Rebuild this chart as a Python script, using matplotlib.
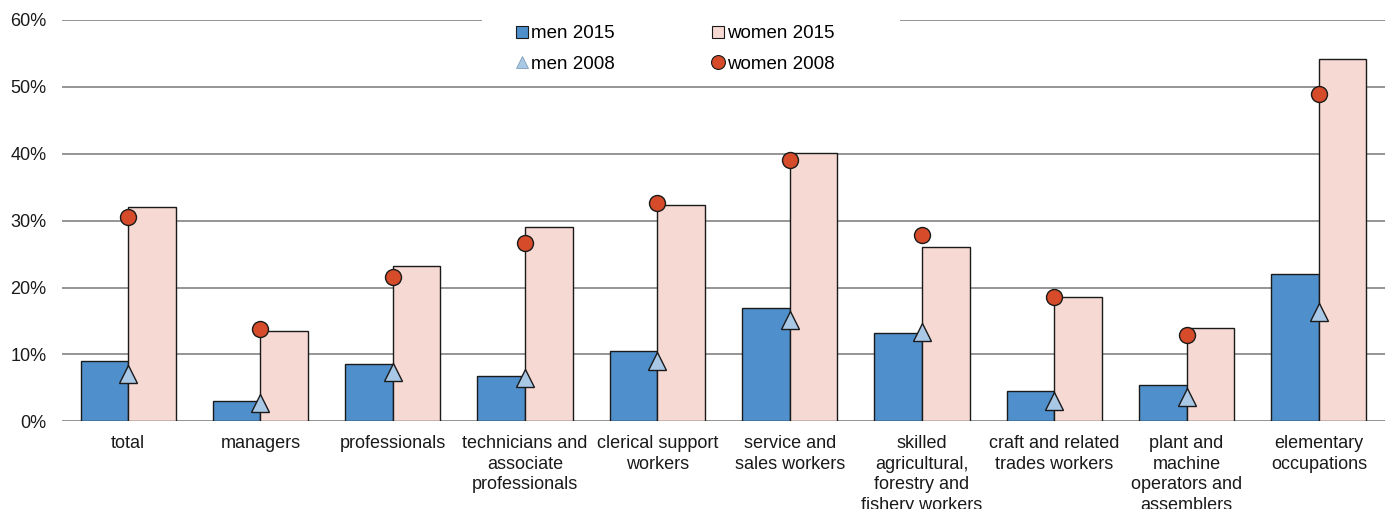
import matplotlib
matplotlib.use("Agg")
import matplotlib.pyplot as plt
from matplotlib.lines import Line2D
from matplotlib.patches import Rectangle
import numpy as np

categories = [
    "total",
    "managers",
    "professionals",
    "technicians and\nassociate\nprofessionals",
    "clerical support\nworkers",
    "service and\nsales workers",
    "skilled\nagricultural,\nforestry and\nfishery workers",
    "craft and related\ntrades workers",
    "plant and\nmachine\noperators and\nassemblers",
    "elementary\noccupations",
]
men_2015 = [9.0, 3.0, 8.5, 6.7, 10.5, 17.0, 13.2, 4.5, 5.5, 22.0]
women_2015 = [32.1, 13.5, 23.2, 29.0, 32.4, 40.1, 26.1, 18.6, 14.0, 54.1]
men_2008 = [7.1, 2.7, 7.3, 6.4, 9.0, 15.1, 13.3, 3.0, 3.7, 16.3]
women_2008 = [30.5, 13.8, 21.6, 26.6, 32.6, 39.0, 27.8, 18.6, 12.9, 48.9]
y_ticks = [0, 10, 20, 30, 40, 50, 60]

C_MEN15 = "#4F8FCB"
C_WOMEN15 = "#F6D9D3"
C_MEN08 = "#A8C8E6"
C_WOMEN08 = "#D64B2A"
EDGE = "#1A1A1A"

plt.rcParams["font.family"] = ["Liberation Sans", "DejaVu Sans"]

fig = plt.figure(figsize=(13.91, 5.09), dpi=100)
ax = fig.add_axes([62 / 1391, 87.7 / 509, 1323 / 1391, 401.3 / 509])

x = np.arange(len(categories))
w = 0.36
ax.bar(x - w / 2, men_2015, width=w, color=C_MEN15, edgecolor=EDGE,
       linewidth=1.0, zorder=2)
ax.bar(x + w / 2, women_2015, width=w, color=C_WOMEN15, edgecolor=EDGE,
       linewidth=1.0, zorder=2)
ax.plot(x, men_2008, linestyle="none", marker="^", markersize=13,
        markerfacecolor=C_MEN08, markeredgecolor=EDGE, markeredgewidth=1.0,
        zorder=3)
ax.plot(x, women_2008, linestyle="none", marker="o", markersize=11.5,
        markerfacecolor=C_WOMEN08, markeredgecolor=EDGE, markeredgewidth=1.0,
        zorder=3)

ax.set_xlim(-0.5, len(categories) - 0.5)
ax.set_ylim(0, 60)
ax.set_yticks(y_ticks)
ax.set_yticklabels([f"{t}%" for t in y_ticks])
ax.set_xticks(x)
ax.set_xticklabels(categories, linespacing=1.27)
ax.tick_params(axis="both", length=0, labelsize=13, colors="#1A1A1A")
ax.tick_params(axis="y", pad=11)
ax.tick_params(axis="x", pad=10)
ax.yaxis.grid(True, color="#8C8C8C", linewidth=1.3, zorder=0)
ax.set_axisbelow(True)
for s in ax.spines.values():
    s.set_visible(False)

# blank panel behind the legend, interrupting the top gridline
fig.patches.append(Rectangle((482 / 1391, 1 - 80 / 509), 418 / 1391, 70 / 509,
                             transform=fig.transFigure, facecolor="white",
                             edgecolor="none", zorder=5))

handles = [
    Line2D([], [], linestyle="none", marker="s", markersize=8,
           markerfacecolor=C_MEN15, markeredgecolor=EDGE, markeredgewidth=0.8),
    Line2D([], [], linestyle="none", marker="^", markersize=8,
           markerfacecolor=C_MEN08, markeredgecolor="#7F9DB8", markeredgewidth=0.6),
    Line2D([], [], linestyle="none", marker="s", markersize=8,
           markerfacecolor=C_WOMEN15, markeredgecolor=EDGE, markeredgewidth=0.8),
    Line2D([], [], linestyle="none", marker="o", markersize=10,
           markerfacecolor=C_WOMEN08, markeredgecolor=EDGE, markeredgewidth=0.8),
]
labels = ["men 2015", "men 2008", "women 2015", "women 2008"]
leg = fig.legend(handles, labels, ncol=2, frameon=False, fontsize=13.5,
                 loc="upper left", bbox_to_anchor=(516 / 1391, 1 - 25 / 509),
                 handlelength=0.6, handletextpad=0.2, columnspacing=5.2,
                 labelspacing=0.72, borderpad=0, borderaxespad=0)
leg.set_zorder(6)

fig.savefig("out.png", dpi=100)
